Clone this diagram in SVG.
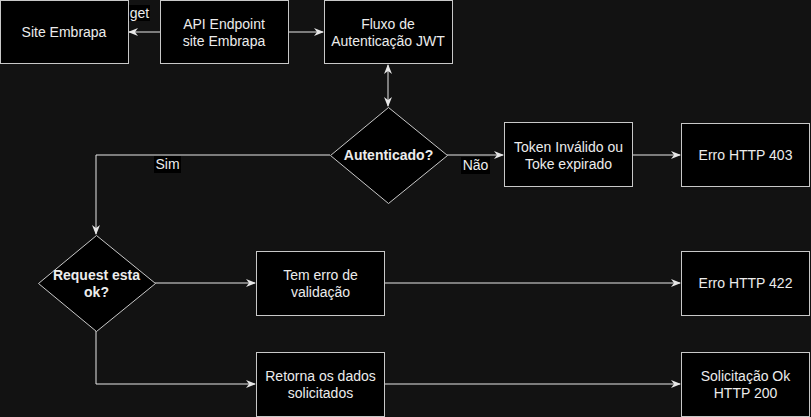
<svg xmlns="http://www.w3.org/2000/svg" width="811" height="417" viewBox="0 0 811 417">
<defs>
<style>
.node{fill:#000;stroke:#c8c8c8;stroke-width:1}
.t{font-family:"Liberation Sans",Arial,sans-serif;font-size:14px;fill:#ececec;text-anchor:middle}
.b{font-weight:bold}
.e{fill:none;stroke:#e6e6e6;stroke-width:1}
.lbl{fill:#000}
</style>
<marker id="a" viewBox="0 0 10 8" refX="9" refY="4" markerWidth="10" markerHeight="8" markerUnits="userSpaceOnUse" orient="auto-start-reverse">
<path d="M0,0 L10,4 L0,8 L3,4 Z" fill="#e6e6e6"/>
</marker>
</defs>
<rect width="811" height="417" fill="#121212"/>
<g id="connectors">
<path class="e" d="M160,32 H129" marker-end="url(#a)"/>
<path class="e" d="M288,32 H323" marker-end="url(#a)"/>
<path class="e" d="M388,65 V106" marker-start="url(#a)" marker-end="url(#a)"/>
<path class="e" d="M447,155 H503" marker-end="url(#a)"/>
<path class="e" d="M633,155 H680" marker-end="url(#a)"/>
<path class="e" d="M330,155 H96 V234" marker-end="url(#a)"/>
<path class="e" d="M155,283 H255" marker-end="url(#a)"/>
<path class="e" d="M384,283 H680" marker-end="url(#a)"/>
<path class="e" d="M96,331 V384 H255" marker-end="url(#a)"/>
<path class="e" d="M384,384 H680" marker-end="url(#a)"/>
<rect class="lbl" x="129" y="5" width="21" height="16"/>
<text class="t" x="139.5" y="18">get</text>
<rect class="lbl" x="461" y="157" width="29" height="17"/>
<text class="t" x="475.5" y="170">Não</text>
<rect class="lbl" x="154" y="156" width="27" height="17"/>
<text class="t" x="167.5" y="169">Sim</text>
</g>
<g id="site-embrapa">
<rect class="node" x="0.5" y="0.5" width="128" height="63"/>
<text class="t" x="64" y="37">Site Embrapa</text>
</g>
<g id="api-endpoint">
<rect class="node" x="160.5" y="0.5" width="128" height="63"/>
<text class="t" x="224" y="29">API Endpoint</text>
<text class="t" x="224" y="46">site Embrapa</text>
</g>
<g id="fluxo-jwt">
<rect class="node" x="324.5" y="0.5" width="128" height="63"/>
<text class="t" x="388" y="29">Fluxo de</text>
<text class="t" x="388" y="46">Autenticação JWT</text>
</g>
<g id="autenticado">
<path class="node" d="M388.5,107.5 L447.5,155.5 L388.5,203.5 L330.5,155.5 Z"/>
<text class="t b" x="388.5" y="160">Autenticado?</text>
</g>
<g id="token-invalido">
<rect class="node" x="504.5" y="122.5" width="128" height="64"/>
<text class="t" x="568.5" y="152">Token Inválido ou</text>
<text class="t" x="568.5" y="169">Toke expirado</text>
</g>
<g id="erro-403">
<rect class="node" x="681.5" y="123.5" width="128" height="63"/>
<text class="t" x="745.5" y="160">Erro HTTP 403</text>
</g>
<g id="request-ok">
<path class="node" d="M96.5,235.5 L155.5,283.5 L96.5,331.5 L38.5,283.5 Z"/>
<text class="t b" x="96.5" y="280">Request esta</text>
<text class="t b" x="96.5" y="297">ok?</text>
</g>
<g id="erro-validacao">
<rect class="node" x="256.5" y="251.5" width="128" height="64"/>
<text class="t" x="320.5" y="280">Tem erro de</text>
<text class="t" x="320.5" y="297">validação</text>
</g>
<g id="erro-422">
<rect class="node" x="681.5" y="251.5" width="128" height="64"/>
<text class="t" x="745.5" y="288">Erro HTTP 422</text>
</g>
<g id="retorna-dados">
<rect class="node" x="256.5" y="352.5" width="128" height="64"/>
<text class="t" x="320.5" y="381">Retorna os dados</text>
<text class="t" x="320.5" y="398">solicitados</text>
</g>
<g id="solicitacao-ok">
<rect class="node" x="681.5" y="352.5" width="128" height="64"/>
<text class="t" x="745.5" y="381">Solicitação Ok</text>
<text class="t" x="745.5" y="398">HTTP 200</text>
</g>
</svg>
